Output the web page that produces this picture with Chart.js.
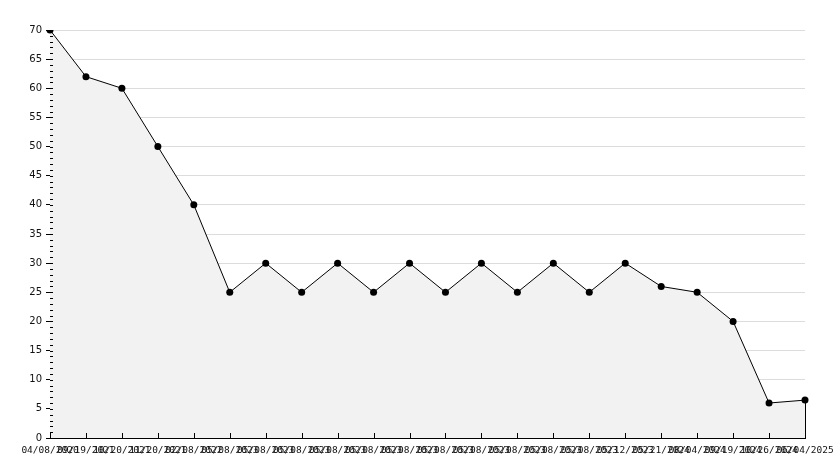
<!DOCTYPE html>
<html>
<head>
<meta charset="utf-8">
<script src="https://cdn.jsdelivr.net/npm/chart.js@4.4.0/dist/chart.umd.min.js"></script>
<style>
  html, body { margin: 0; padding: 0; background: #fff; }
  #wrap { width: 834px; height: 468px; }
</style>
</head>
<body>
<div id="wrap"><canvas id="myChart"></canvas></div>
<script>
// dates along the bottom (they overlap in the original too)
const dateLabels = [
  '04/08/2020', '09/19/2021', '10/20/2021', '11/20/2021', '02/08/2022',
  '05/08/2023', '05/08/2023', '05/08/2023', '05/08/2023', '05/08/2023',
  '05/08/2023', '05/08/2023', '05/08/2023', '05/08/2023', '05/08/2023',
  '05/08/2023', '05/12/2023', '05/21/2024', '08/04/2024', '09/19/2024',
  '10/26/2024', '06/04/2025'
];
const values = [70, 62, 60, 50, 40, 25, 30, 25, 30, 25, 30, 25, 30, 25, 30, 25, 30, 26, 25, 20, 6, 6.5];
const yMin = 0;
const yMax = 70;
const yStep = 5;

// inner tick marks + closing edge of the filled area
const axisMarks = {
  id: 'axisMarks',
  afterDatasetsDraw(chart) {
    const { ctx, scales: { x, y }, chartArea } = chart;
    ctx.save();
    ctx.strokeStyle = '#000';
    ctx.lineWidth = 1;
    ctx.beginPath();
    // x ticks pointing up
    values.forEach((v, i) => {
      const px = Math.round(x.getPixelForValue(i)) + 0.5;
      ctx.moveTo(px, chartArea.bottom);
      ctx.lineTo(px, chartArea.bottom - 5);
    });
    // y minor ticks, inside the plot
    for (let v = yMin; v <= yMax; v++) {
      const py = Math.round(y.getPixelForValue(v)) + 0.5;
      ctx.moveTo(chartArea.left, py);
      ctx.lineTo(chartArea.left + 3, py);
    }
    // right edge of the area
    const last = values.length - 1;
    const lx = Math.round(x.getPixelForValue(last)) + 0.5;
    ctx.moveTo(lx, y.getPixelForValue(values[last]));
    ctx.lineTo(lx, y.getPixelForValue(0));
    ctx.stroke();
    ctx.restore();
  }
};

const ctx = document.getElementById('myChart').getContext('2d');
new Chart(ctx, {
  type: 'line',
  data: {
    labels: dateLabels,
    datasets: [{
      data: values,
      borderColor: '#000',
      borderWidth: 1,
      backgroundColor: '#f2f2f2',
      fill: 'origin',
      tension: 0,
      pointStyle: 'circle',
      pointRadius: 3.5,
      pointBackgroundColor: '#000',
      pointBorderColor: '#000',
      pointBorderWidth: 0
    }]
  },
  plugins: [axisMarks],
  options: {
    responsive: true,
    maintainAspectRatio: false,
    animation: false,
    layout: { padding: { top: 30, right: 29, bottom: 0, left: 0 } },
    plugins: {
      legend: { display: false },
      tooltip: { enabled: false }
    },
    scales: {
      x: {
        offset: false,
        grid: { display: true, drawOnChartArea: false, drawTicks: false },
        border: { color: '#000', width: 1 },
        ticks: {
          autoSkip: false,
          maxRotation: 0,
          minRotation: 0,
          padding: 7,
          color: '#111',
          font: { family: 'DejaVu Sans Mono', size: 9.5 }
        },
        afterFit(scale) {
          scale.height = 30;
          scale.paddingLeft = 0;
          scale.paddingRight = 0;
        }
      },
      y: {
        min: yMin,
        max: yMax,
        grid: { color: '#dcdcdc', tickColor: '#000', tickLength: 4 },
        border: { color: '#000', width: 1 },
        ticks: {
          stepSize: yStep,
          padding: 4,
          color: '#111',
          font: { family: 'DejaVu Sans', size: 10 }
        },
        afterFit(scale) {
          scale.width = 50;
          scale.paddingTop = 0;
          scale.paddingBottom = 0;
        }
      }
    }
  }
});
</script>
</body>
</html>
